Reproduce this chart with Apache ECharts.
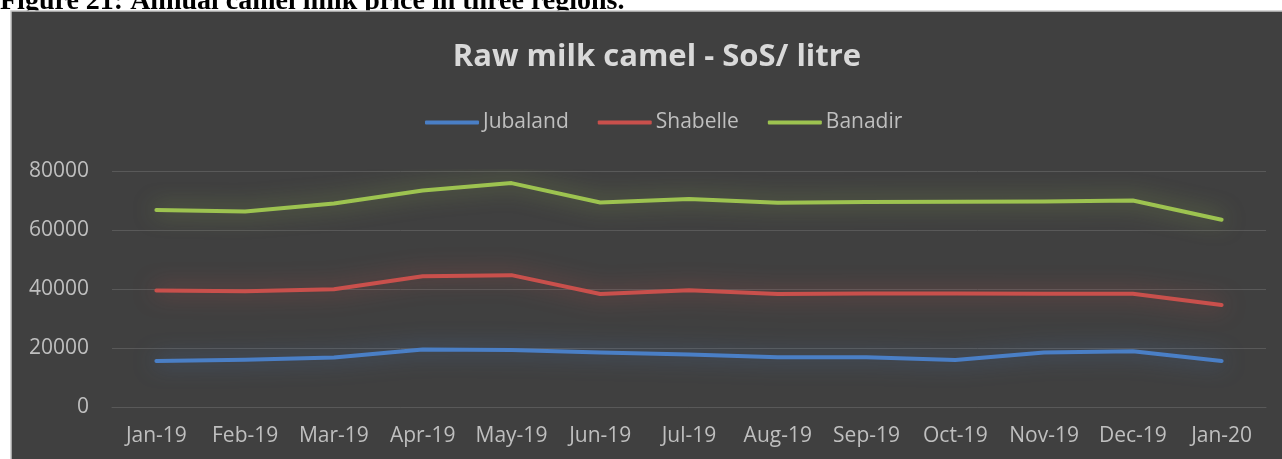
<!DOCTYPE html>
<html>
<head>
    <meta charset="utf-8" />
    <title>Raw milk camel</title>
    <script src="https://cdn.jsdelivr.net/npm/echarts@6/dist/echarts.min.js"></script>
    <style>
        html, body { margin: 0; padding: 0; background: #fff; }
        #EChart { width: 1282px; height: 459px; }
    </style>
</head>
<body>
    <div id="EChart"></div>
    <script type="text/javascript">
        // data
        var months = ['Jan-19', 'Feb-19', 'Mar-19', 'Apr-19', 'May-19', 'Jun-19', 'Jul-19',
                      'Aug-19', 'Sep-19', 'Oct-19', 'Nov-19', 'Dec-19', 'Jan-20'];
        var jubaland = [15600, 16000, 16800, 19500, 19300, 18500, 17800, 16900, 16900, 15900, 18500, 18900, 15600];
        var shabelle = [39500, 39200, 39900, 44300, 44700, 38300, 39600, 38300, 38500, 38500, 38400, 38400, 34600];
        var banadir = [66800, 66300, 69000, 73400, 75900, 69300, 70500, 69200, 69500, 69600, 69700, 70000, 63500];
        var yTicks = [0, 20000, 40000, 60000, 80000];

        var labelFont = '"Open Sans", "Noto Sans", sans-serif';

        function lineSeries(name, data, color, glow) {
            return {
                name: name,
                type: 'line',
                data: data,
                symbol: 'none',
                smooth: false,
                lineStyle: {
                    color: color,
                    width: 4,
                    cap: 'round',
                    join: 'round',
                    shadowBlur: 22,
                    shadowColor: glow
                },
                itemStyle: { color: color }
            };
        }

        var option = {
            backgroundColor: '#ffffff',
            animation: false,
            graphic: [
                {
                    type: 'text',
                    left: 0,
                    top: -12,
                    style: {
                        text: 'Figure 21: Annual camel milk price in three regions.',
                        font: 'bold 28px "Liberation Serif", "Times New Roman", serif',
                        fill: '#000000'
                    },
                    z: -2
                },
                {
                    type: 'rect',
                    shape: { x: 11, y: 11, width: 1290, height: 460 },
                    style: { fill: '#404040', stroke: '#c8c8c8', lineWidth: 1.5 },
                    z: -1
                }
            ],
            title: {
                text: 'Raw milk camel - SoS/ litre',
                left: 652,
                top: 37,
                textAlign: 'center',
                textStyle: {
                    color: '#d9d9d9',
                    fontFamily: labelFont,
                    fontWeight: 'bold',
                    fontSize: 31
                }
            },
            legend: {
                data: ['Jubaland', 'Shabelle', 'Banadir'],
                left: 420,
                top: 107,
                icon: 'roundRect',
                itemWidth: 54,
                itemHeight: 4,
                itemGap: 29,
                textStyle: {
                    color: '#bfbfbf',
                    fontFamily: labelFont,
                    fontSize: 21,
                    padding: [0, 0, 0, -1]
                }
            },
            grid: {
                left: 112,
                right: 16,
                top: 171,
                bottom: 52,
                containLabel: false
            },
            xAxis: {
                type: 'category',
                data: months,
                boundaryGap: true,
                axisLine: { lineStyle: { color: '#595959', width: 1 } },
                axisTick: { show: false },
                axisLabel: {
                    color: '#bfbfbf',
                    fontFamily: labelFont,
                    fontSize: 21,
                    margin: 19,
                    interval: 0
                }
            },
            yAxis: {
                type: 'value',
                min: yTicks[0],
                max: yTicks[yTicks.length - 1],
                interval: yTicks[1] - yTicks[0],
                axisLine: { show: false },
                axisTick: { show: false },
                splitLine: { lineStyle: { color: '#595959', width: 1 } },
                axisLabel: {
                    color: '#bfbfbf',
                    fontFamily: labelFont,
                    fontSize: 21,
                    margin: 23,
                    formatter: function (v) { return String(v); }
                }
            },
            series: [
                lineSeries('Jubaland', jubaland, '#4a7fc6', 'rgba(74,127,198,0.7)'),
                lineSeries('Shabelle', shabelle, '#c9504c', 'rgba(201,80,76,0.7)'),
                lineSeries('Banadir', banadir, '#9dc350', 'rgba(157,195,80,0.65)')
            ]
        };

        var myChart = echarts.init(document.getElementById('EChart'));
        myChart.setOption(option);
    </script>
</body>
</html>
